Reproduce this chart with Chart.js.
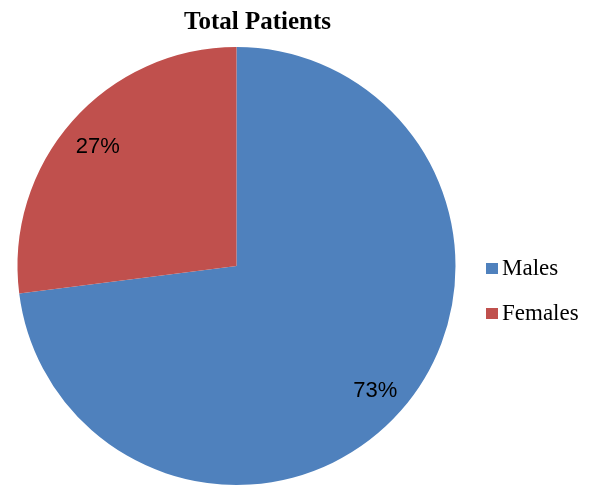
<!DOCTYPE html>
<html>
<head>
<meta charset="utf-8">
<script src="https://cdn.jsdelivr.net/npm/chart.js@4/dist/chart.umd.min.js"></script>
<style>
  html, body { margin: 0; padding: 0; background: #fff; }
  #wrap { width: 597px; height: 489px; }
</style>
</head>
<body>
<div id="wrap"><canvas id="pieChart" width="597" height="489"></canvas></div>
<script>
// data
const categories = ['Males', 'Females']
const shares = [73, 27]
const sliceColors = ['#4F81BD', '#C0504D']
const chartTitle = 'Total Patients'

// title, percent labels and legend drawn on top
const overlay = {
    id: 'overlay',
    afterDraw(chart) {
        const ctx = chart.ctx
        const meta = chart.getDatasetMeta(0)
        ctx.save()

        // title
        ctx.fillStyle = '#000'
        ctx.font = 'bold 25px "Liberation Serif"'
        ctx.textAlign = 'center'
        ctx.textBaseline = 'alphabetic'
        ctx.fillText(chartTitle, 257.5, 29)

        // percent labels
        ctx.font = '22px "Liberation Sans"'
        ctx.textBaseline = 'middle'
        meta.data.forEach((arc, i) => {
            const mid = (arc.startAngle + arc.endAngle) / 2
            const r = arc.outerRadius * 0.845
            const x = arc.x + Math.cos(mid) * r
            const y = arc.y + Math.sin(mid) * r + 3
            ctx.fillText(shares[i] + '%', x, y)
        })

        // legend
        ctx.font = '23px "Liberation Serif"'
        ctx.textAlign = 'left'
        categories.forEach((name, i) => {
            const y = 269 + i * 45
            ctx.fillStyle = sliceColors[i]
            ctx.fillRect(486, y - 6, 12, 11)
            ctx.fillStyle = '#000'
            ctx.fillText(name, 502, y)
        })

        ctx.restore()
    }
}

new Chart(document.getElementById('pieChart'), {
    type: 'pie',
    data: {
        labels: categories,
        datasets: [{
            data: shares,
            backgroundColor: sliceColors,
            borderWidth: 0
        }]
    },
    options: {
        responsive: false,
        animation: false,
        layout: {
            padding: {left: 17, right: 141, top: 47, bottom: 4}
        },
        plugins: {
            legend: {display: false},
            title: {display: false},
            tooltip: {enabled: false}
        }
    },
    plugins: [overlay]
})
</script>
</body>
</html>
